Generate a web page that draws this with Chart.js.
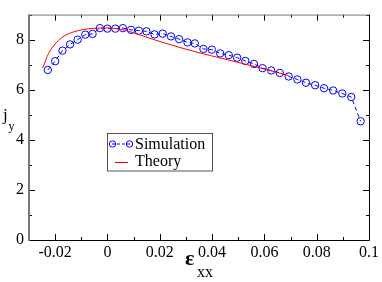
<!DOCTYPE html>
<html>
<head>
<meta charset="utf-8">
<script src="https://cdn.jsdelivr.net/npm/chart.js@4"></script>
<style>
  html, body { margin: 0; padding: 0; background: #fff; }
  #wrap { width: 382px; height: 282px; }
</style>
</head>
<body>
<div id="wrap"><canvas id="strainChart" width="382" height="282"></canvas></div>
<script>
// Simulation points
const simX = [-0.0228, -0.0200, -0.0172, -0.0143, -0.0114, -0.0085, -0.0057, -0.0029, 0, 0.0030,
    0.0059, 0.0090, 0.0120, 0.0149, 0.0180, 0.0211, 0.0243, 0.0274, 0.0306, 0.0334,
    0.0367, 0.0399, 0.0431, 0.0464, 0.0496, 0.0527, 0.0560, 0.0593, 0.0626, 0.0659,
    0.0693, 0.0726, 0.0759, 0.0794, 0.0828, 0.0863, 0.0898, 0.0932, 0.0968];
const simY = [6.79, 7.14, 7.56, 7.81, 8.00, 8.20, 8.23, 8.46, 8.44, 8.44,
    8.46, 8.39, 8.36, 8.33, 8.21, 8.24, 8.13, 8.02, 7.89, 7.85,
    7.63, 7.60, 7.45, 7.38, 7.28, 7.15, 7.03, 6.86, 6.77, 6.67,
    6.53, 6.41, 6.28, 6.18, 6.06, 5.97, 5.85, 5.71, 4.74];

// Theory curve
const theoryX = [-0.0248, -0.0225, -0.0200, -0.0175, -0.0150, -0.0112, -0.0074, -0.0036, 0, 0.0035,
    0.0066, 0.0120, 0.0205, 0.0331, 0.0458, 0.0584, 0.0692];
const theoryY = [6.87, 7.45, 7.83, 8.08, 8.23, 8.36, 8.43, 8.46, 8.47, 8.44,
    8.38, 8.20, 7.91, 7.53, 7.20, 6.87, 6.57];

// Axis ticks
const xMajor = [-0.02, 0, 0.02, 0.04, 0.06, 0.08, 0.1];
const xMinor = [-0.03, -0.01, 0.01, 0.03, 0.05, 0.07, 0.09];
const xLabels = ['-0.02', '0', '0.02', '0.04', '0.06', '0.08', '0.1'];
const yMajor = [0, 2, 4, 6, 8];
const yMinor = [1, 3, 5, 7, 9];
const yLabels = ['0', '2', '4', '6', '8'];

const SERIF = '"Times New Roman", "Liberation Serif", Times, serif';
const BLUE = '#0000ff';
const RED = '#ff0000';

// frame + inward ticks on all four sides
const framePlugin = {
    id: 'frame',
    afterDatasetsDraw(chart) {
        const c = chart.ctx;
        const a = chart.chartArea;
        const xs = chart.scales.x, ys = chart.scales.y;
        c.save();
        c.strokeStyle = '#000';
        c.lineWidth = 1;
        c.beginPath();
        xMajor.forEach(v => {
            const p = Math.round(xs.getPixelForValue(v)) + 0.5;
            c.moveTo(p, a.bottom); c.lineTo(p, a.bottom - 6);
            c.moveTo(p, a.top); c.lineTo(p, a.top + 6);
        });
        xMinor.forEach(v => {
            const p = Math.round(xs.getPixelForValue(v)) + 0.5;
            c.moveTo(p, a.bottom); c.lineTo(p, a.bottom - 3);
            c.moveTo(p, a.top); c.lineTo(p, a.top + 3);
        });
        yMajor.forEach(v => {
            const p = Math.round(ys.getPixelForValue(v)) + 0.5;
            c.moveTo(a.left, p); c.lineTo(a.left + 6, p);
            c.moveTo(a.right, p); c.lineTo(a.right - 6, p);
        });
        yMinor.forEach(v => {
            const p = Math.round(ys.getPixelForValue(v)) + 0.5;
            c.moveTo(a.left, p); c.lineTo(a.left + 3, p);
            c.moveTo(a.right, p); c.lineTo(a.right - 3, p);
        });
        c.stroke();
        // frame
        c.beginPath();
        c.moveTo(a.left, a.bottom + 0.5); c.lineTo(a.right + 0.5, a.bottom + 0.5);
        c.lineTo(a.right + 0.5, a.top + 0.5);
        c.stroke();
        c.strokeStyle = '#777';
        c.beginPath();
        c.moveTo(a.right, a.top + 0.5); c.lineTo(a.left, a.top + 0.5);
        c.stroke();
        c.lineWidth = 2;
        c.beginPath();
        c.moveTo(a.left, a.top); c.lineTo(a.left, a.bottom + 1);
        c.stroke();
        c.restore();
    },
    afterDraw(chart) {
        const c = chart.ctx;
        c.save();
        c.fillStyle = '#000';
        c.textBaseline = 'alphabetic';
        c.textAlign = 'left';
        // y title: j_y
        c.font = '17px ' + SERIF;
        c.fillText('j', 3, 120);
        c.font = '12px ' + SERIF;
        c.fillText('y', 8.5, 129.5);
        // x title: ε_xx
        c.font = 'bold 22px ' + SERIF;
        c.fillText('ε', 185, 264.5);
        c.font = '16px ' + SERIF;
        c.fillText('xx', 197, 276.5);

        // legend box
        c.strokeStyle = '#555';
        c.lineWidth = 1;
        c.fillStyle = '#fff';
        c.fillRect(108, 133.5, 104.5, 37.5);
        c.strokeRect(107.5, 133.5, 105, 37.5);
        // simulation entry
        c.strokeStyle = BLUE;
        c.setLineDash([3, 2]);
        c.beginPath();
        c.moveTo(112, 144); c.lineTo(130, 144);
        c.stroke();
        c.setLineDash([]);
        [112.5, 129.5].forEach(cx => {
            c.beginPath();
            c.arc(cx, 144, 3.2, 0, Math.PI * 2);
            c.stroke();
        });
        // theory entry
        c.strokeStyle = RED;
        c.beginPath();
        c.moveTo(115, 162.5); c.lineTo(128, 162.5);
        c.stroke();
        c.fillStyle = '#000';
        c.font = '16px ' + SERIF;
        c.fillText('Simulation', 135, 149);
        c.fillText('Theory', 135, 165.5);
        c.restore();
    }
};

const ctx = document.getElementById('strainChart').getContext('2d');
const strainChart = new Chart(ctx, {
    type: 'line',
    data: {
        datasets: [
            {
                label: 'Theory',
                data: theoryX.map((x, i) => ({ x: x, y: theoryY[i] })),
                borderColor: RED,
                borderWidth: 1,
                pointRadius: 0,
                cubicInterpolationMode: 'monotone',
                fill: false,
            },
            {
                label: 'Simulation',
                data: simX.map((x, i) => ({ x: x, y: simY[i] })),
                borderColor: BLUE,
                backgroundColor: 'rgba(0,0,0,0)',
                borderWidth: 1,
                borderDash: [4, 3],
                pointRadius: 3.7,
                pointBorderWidth: 1,
                pointBorderColor: BLUE,
                pointBackgroundColor: 'rgba(0,0,0,0)',
                tension: 0,
                fill: false,
            },
        ],
    },
    options: {
        responsive: false,
        devicePixelRatio: 1,
        animation: false,
        layout: { padding: { left: 0, right: 10, top: 1, bottom: 0 } },
        plugins: {
            legend: { display: false },
            tooltip: { enabled: false },
        },
        scales: {
            x: {
                type: 'linear',
                min: -0.03,
                max: 0.1,
                grid: { display: false, drawTicks: false },
                border: { display: false },
                afterBuildTicks: s => { s.ticks = xMajor.map(v => ({ value: v })); },
                afterFit: s => { s.height = 42; },
                ticks: {
                    autoSkip: false,
                    maxRotation: 0,
                    padding: 3,
                    color: '#000',
                    font: { family: SERIF, size: 16 },
                    callback: v => xLabels[xMajor.findIndex(m => Math.abs(m - v) < 1e-9)],
                },
            },
            y: {
                min: 0,
                max: 9,
                grid: { display: false, drawTicks: false },
                border: { display: false },
                afterBuildTicks: s => { s.ticks = yMajor.map(v => ({ value: v })); },
                afterFit: s => { s.width = 29; },
                ticks: {
                    padding: 5,
                    color: '#000',
                    font: { family: SERIF, size: 16 },
                    callback: v => yLabels[yMajor.indexOf(v)],
                },
            },
        },
    },
    plugins: [framePlugin],
});
</script>
</body>
</html>
